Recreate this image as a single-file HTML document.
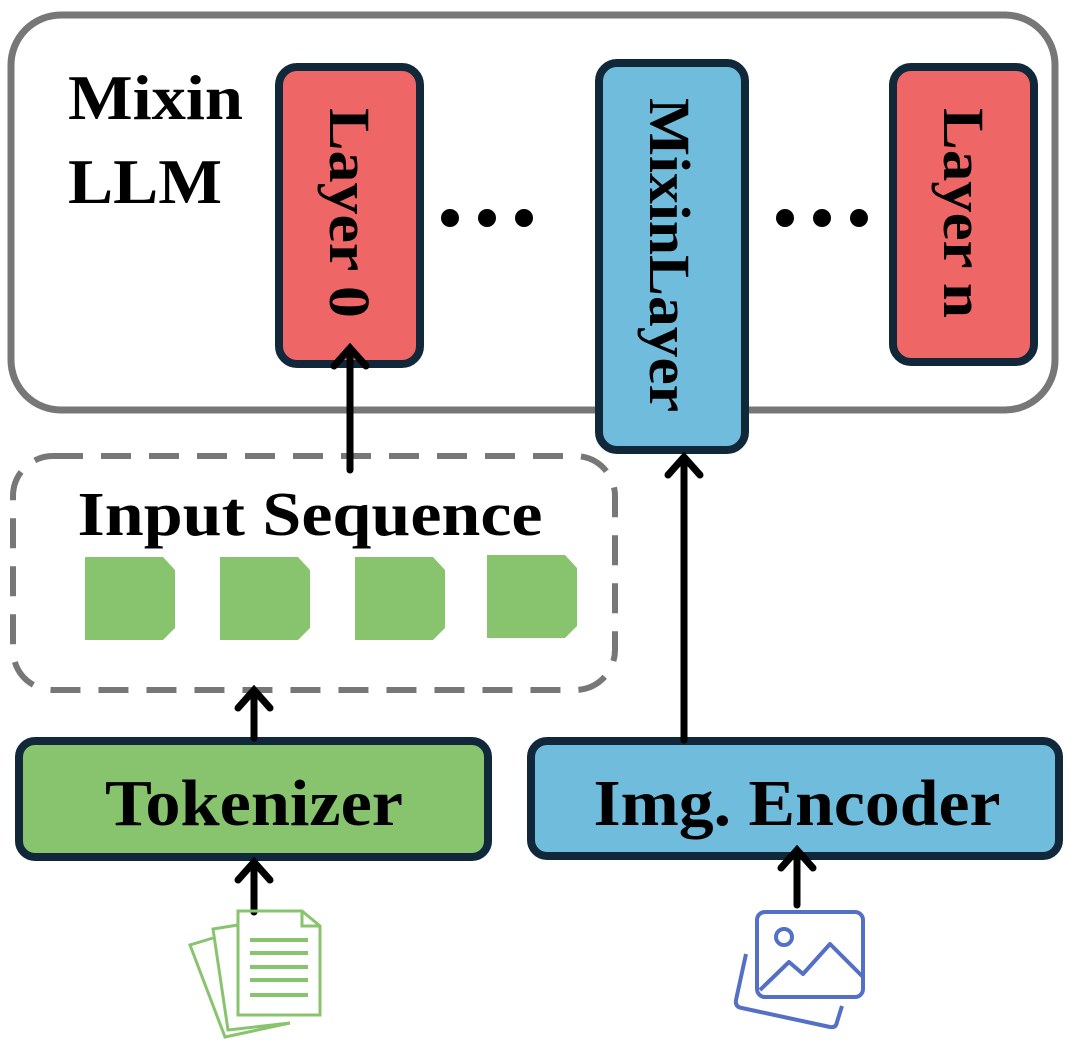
<!DOCTYPE html>
<html><head><style>html,body{margin:0;padding:0;background:#fff}</style></head>
<body>
<svg width="1082" height="1041" viewBox="0 0 1082 1041" xmlns="http://www.w3.org/2000/svg" font-family="Liberation Serif, serif" font-weight="bold">
<rect x="11" y="15" width="1044" height="395" rx="50" fill="#fff" stroke="#777" stroke-width="7"/>
<text x="68" y="119" font-size="64" textLength="175" lengthAdjust="spacingAndGlyphs">Mixin</text>
<text x="68" y="203" font-size="64" textLength="154" lengthAdjust="spacingAndGlyphs">LLM</text>
<rect x="279" y="67" width="141" height="297" rx="18" fill="#EE6666" stroke="#10283A" stroke-width="8"/>
<text transform="translate(330,213) rotate(90)" text-anchor="middle" font-size="58" textLength="210" lengthAdjust="spacingAndGlyphs">Layer 0</text>
<rect x="893" y="67" width="141" height="295" rx="18" fill="#EE6666" stroke="#10283A" stroke-width="8"/>
<text transform="translate(944,213) rotate(90)" text-anchor="middle" font-size="58" textLength="210" lengthAdjust="spacingAndGlyphs">Layer n</text>
<rect x="599" y="63" width="146" height="387" rx="18" fill="#70BCDD" stroke="#10283A" stroke-width="8"/>
<text transform="translate(650,255) rotate(90)" text-anchor="middle" font-size="58" textLength="314" lengthAdjust="spacingAndGlyphs">MixinLayer</text>
<g fill="#000"><circle cx="450" cy="218" r="9"/><circle cx="487" cy="218" r="9"/><circle cx="524" cy="218" r="9"/><circle cx="785" cy="218" r="9"/><circle cx="822" cy="218" r="9"/><circle cx="859" cy="218" r="9"/></g>
<rect x="13" y="456" width="602" height="234" rx="40" fill="none" stroke="#777" stroke-width="6" stroke-dasharray="30,18"/>
<text x="310" y="535" text-anchor="middle" font-size="62" textLength="465" lengthAdjust="spacingAndGlyphs">Input Sequence</text>
<g fill="#88C46E">
<polygon points="85,557 163,557 175,570 175,628 163,640 85,640"/>
<polygon points="220,557 298,557 310,570 310,628 298,640 220,640"/>
<polygon points="355,557 433,557 445,570 445,628 433,640 355,640"/>
<polygon points="487,555 565,555 577,568 577,626 565,638 487,638"/>
</g>
<rect x="19" y="741" width="469" height="116" rx="16" fill="#88C46E" stroke="#10283A" stroke-width="8"/>
<text x="254" y="825" text-anchor="middle" font-size="66" textLength="298" lengthAdjust="spacingAndGlyphs">Tokenizer</text>
<rect x="531" y="741" width="528" height="115" rx="16" fill="#70BCDD" stroke="#10283A" stroke-width="8"/>
<text x="797" y="825" text-anchor="middle" font-size="66" textLength="407" lengthAdjust="spacingAndGlyphs">Img. Encoder</text>
<g stroke="#000" stroke-width="7" fill="none" stroke-linecap="round">
<path d="M350 470 V348 M334 366 L350 348 L366 366"/>
<path d="M254 738 V690 M238 708 L254 690 L270 708"/>
<path d="M684 740 V457 M668 475 L684 457 L700 475"/>
<path d="M254 912 V862 M238 880 L254 862 L270 880"/>
<path d="M797 905 V850 M781 868 L797 850 L813 868"/>
</g>
<g stroke="#88C46E" stroke-width="3" fill="none">
<path d="M238 911 H302 L320 926 V1015 H238 Z"/>
<path d="M302 911 V926 H320"/>
<path d="M250 940 H308 M250 953 H308 M250 967 H308 M250 980 H308 M250 995 H308" stroke-width="4"/>
<path d="M238 925 L213 929 L228 1030 L290 1023"/>
<path d="M213 938 L190 945 L225 1037 L290 1023"/>
</g>
<g stroke="#5470C6" stroke-width="4" fill="none" stroke-linejoin="round">
<rect x="757" y="912" width="106" height="85" rx="8"/>
<circle cx="784" cy="937" r="8"/>
<path d="M760 990 L789 962 L803 974 L830 944 L863 977"/>
<path d="M746 954 L736 1000 Q735 1007 742 1008 L830 1027 Q836 1028 837 1022 L842 1006"/>
</g>
</svg>
</body></html>
